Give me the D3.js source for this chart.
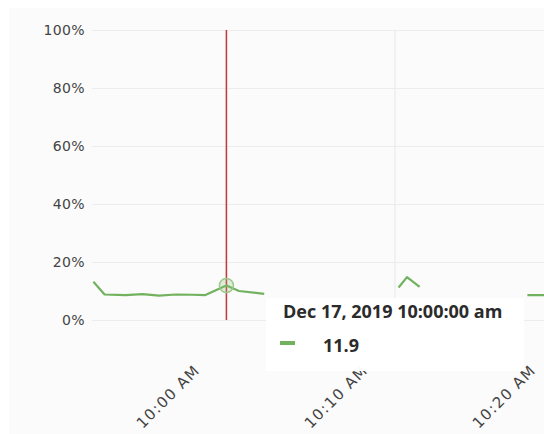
<!DOCTYPE html>
<html>
<head>
<meta charset="utf-8">
<script src="https://cdn.jsdelivr.net/npm/d3@7"></script>
<style>
  html, body { margin: 0; padding: 0; background: #ffffff; }
  svg { display: block; }
</style>
</head>
<body>
<svg id="chart" width="544" height="434"></svg>
<script>
// ---- data ----
const day = "2019-12-17";
const times = ["09:52:05","09:52:45","09:54:00","09:55:00","09:56:00","09:57:00","09:58:00","09:58:45","09:59:30","10:00:00","10:00:45","10:02:15","10:03:00","10:10:15","10:10:45","10:11:30","10:12:00","10:17:55","10:19:00"];
const values = [13.2, 8.8, 8.6, 8.9, 8.4, 8.8, 8.7, 8.6, 10.6, 11.9, 10.0, 9.0, null, 11.2, 14.8, 11.4, null, 8.6, 8.6];
const yTicks = [0, 20, 40, 60, 80, 100];
const domainStart = "09:52:00";
const domainEnd = "10:22:00";
const hoverTime = "10:00:00";

const parse = d3.timeParse("%Y-%m-%d %H:%M:%S");
const data = times.map((t, i) => ({ t: parse(day + " " + t), v: values[i] }));
const hover = data.find(d => d3.timeFormat("%H:%M:%S")(d.t) === hoverTime);

const svg = d3.select("#chart");
const mLeft = 92, mTop = 30, mBottom = 320;

const x = d3.scaleTime()
  .domain([parse(day + " " + domainStart), parse(day + " " + domainEnd)])
  .range([mLeft, mLeft + 30 * 16.8]);
const y = d3.scaleLinear().domain([0, 100]).range([mBottom, mTop]);

// panel
svg.append("rect").attr("x", 9).attr("y", 8).attr("width", 535).attr("height", 426).attr("fill", "#fbfbfb");

// horizontal grid + y labels
const yAxis = d3.axisLeft(y).tickValues(yTicks).tickFormat(d => d + "%").tickSize(-(544 - mLeft)).tickPadding(7);
const gy = svg.append("g").attr("transform", `translate(${mLeft},0)`).call(yAxis);
gy.select(".domain").remove();
gy.selectAll(".tick line").attr("stroke", "#ececec").attr("stroke-width", 1.2);
gy.selectAll(".tick text")
  .attr("font-family", "DejaVu Sans, sans-serif").attr("font-size", 14)
  .attr("fill", "#444").attr("letter-spacing", 0.4);

// vertical grid + x labels
const xAxis = d3.axisBottom(x).ticks(d3.timeMinute.every(10))
  .tickFormat(d3.timeFormat("%-I:%M %p")).tickSize(-(mBottom - mTop)).tickPadding(0);
const gx = svg.append("g").attr("transform", `translate(0,${mBottom})`).call(xAxis);
gx.select(".domain").remove();
gx.selectAll(".tick line").attr("stroke", "#ececec").attr("stroke-width", 1.2);
gx.selectAll(".tick text")
  .attr("font-family", "DejaVu Sans, sans-serif").attr("font-size", 15)
  .attr("letter-spacing", 1.4)
  .attr("fill", "#444")
  .attr("text-anchor", "end")
  .attr("dy", 0).attr("y", 0)
  .attr("transform", "translate(-26,51) rotate(-45)");

// red cursor line
svg.append("line")
  .attr("x1", x(hover.t)).attr("x2", x(hover.t))
  .attr("y1", y(100)).attr("y2", y(0))
  .attr("stroke", "#c23b3b").attr("stroke-width", 1.5);

// green series line
const line = d3.line().defined(d => d.v !== null).x(d => x(d.t)).y(d => y(d.v));
svg.append("path").datum(data)
  .attr("d", line).attr("fill", "none")
  .attr("stroke", "#72b25e").attr("stroke-width", 2.2)
  .attr("stroke-linejoin", "round");

// hover marker
svg.append("circle")
  .attr("cx", x(hover.t)).attr("cy", y(hover.v)).attr("r", 7)
  .attr("fill", "rgba(140,190,120,0.25)").attr("stroke", "#9cc98c").attr("stroke-width", 1.5);

// tooltip box (covers part of axis)
svg.append("rect").attr("x", 266).attr("y", 298).attr("width", 258).attr("height", 73)
  .attr("fill", "#ffffff").attr("opacity", 0.97);

svg.append("text")
  .attr("x", 283).attr("y", 318)
  .attr("font-family", "Open Sans, sans-serif").attr("font-weight", "bold").attr("font-size", 18)
  .attr("fill", "#2b2b2b")
  .text(d3.timeFormat("%b %d, %Y %I:%M:%S")(hover.t) + " am");

svg.append("line")
  .attr("x1", 280).attr("x2", 295).attr("y1", 343).attr("y2", 343)
  .attr("stroke", "#72b25e").attr("stroke-width", 4);

svg.append("text")
  .attr("x", 323).attr("y", 352)
  .attr("font-family", "Open Sans, sans-serif").attr("font-weight", "bold").attr("font-size", 18)
  .attr("fill", "#2b2b2b")
  .text(d3.format(".1f")(hover.v));
</script>
</body>
</html>
